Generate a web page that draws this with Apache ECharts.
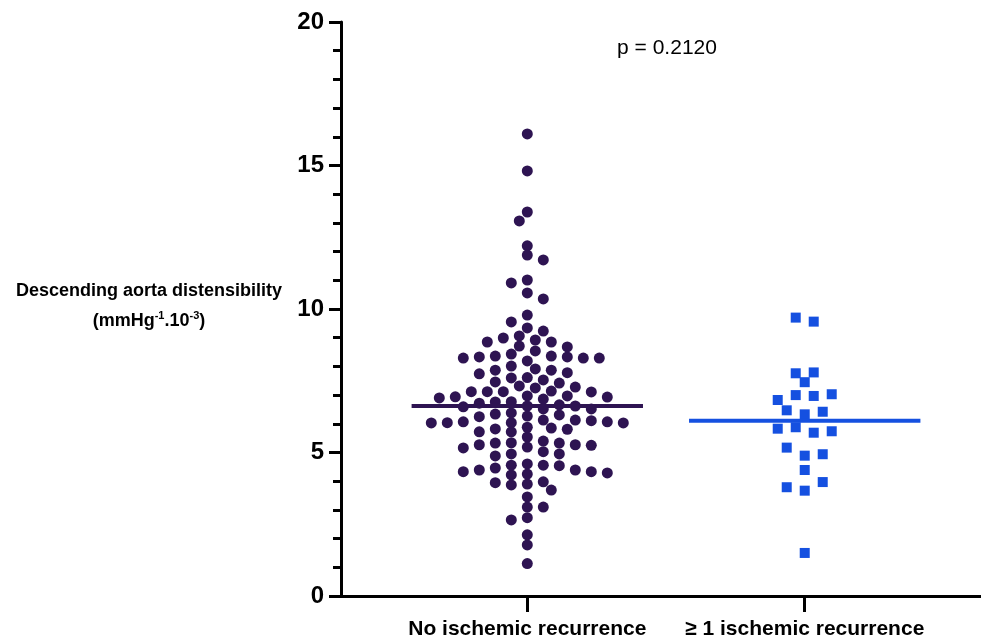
<!DOCTYPE html>
<html>
<head>
<meta charset="utf-8">
<script src="https://cdn.jsdelivr.net/npm/echarts@6/dist/echarts.min.js"></script>
<style>html,body{margin:0;padding:0;background:#fff}#c{width:981px;height:640px}</style>
</head>
<body>
<div id="c"></div>
<script>
const categories = ['No ischemic recurrence', '\u2265 1 ischemic recurrence'];
const noRecurrence = [
  16.10, 14.81, 12.20, 2.13, 1.78, 1.13,
  13.07, 11.88, 11.01, 10.56, 9.79, 9.06, 8.71, 8.33, 7.74, 7.14, 6.86, 6.52, 6.07, 5.72, 5.40, 5.03, 4.22, 3.87, 3.45, 3.10, 2.73,
  13.38, 11.71, 10.91, 10.35, 9.55, 8.85, 8.54, 8.19, 7.87, 7.42, 7.11, 6.76, 6.31, 5.54, 5.19, 4.60, 4.29, 3.90, 3.10, 2.65,
  9.34, 8.99, 8.43, 7.87, 7.28, 6.93, 6.59, 6.04, 5.72, 5.33, 4.56, 4.25, 3.69,
  9.23, 8.85, 8.36, 8.01, 7.60, 6.97, 6.66, 6.03, 5.34, 4.95, 4.33, 3.95,
  8.68, 8.33, 7.91, 7.53, 6.62, 6.13, 5.82, 5.33, 4.95, 4.46,
  8.92, 8.29, 7.78, 7.46, 6.72, 6.38, 6.04, 5.16, 4.56, 3.98,
  8.29, 7.61, 6.94, 6.62, 6.27, 5.85, 5.27, 4.54,
  8.29, 7.25, 6.90, 6.52, 6.11, 5.81, 5.25, 4.88, 4.39,
  8.36, 7.32, 6.97, 6.34, 6.03, 4.39,
  7.12, 6.77, 6.13, 5.27, 4.33,
  7.12, 6.07,
  7.12, 6.25, 5.88
];
const recurrence = [
  9.70, 9.56, 7.76, 7.79, 7.45, 6.83, 7.00, 6.97, 7.03, 6.47, 6.33, 6.42,
  5.83, 5.88, 5.69, 5.74, 5.17, 4.89, 4.94, 4.39, 3.79, 3.67, 3.97, 1.50
];
const yAxisTitle = 'Descending aorta distensibility';
const pValueLabel = 'p = 0.2120';

function median(a) {
  const s = a.slice().sort((x, y) => x - y);
  const n = s.length;
  return n % 2 ? s[(n - 1) / 2] : (s[n / 2 - 1] + s[n / 2]) / 2;
}

const FONT = 'Liberation Sans, Arial, sans-serif';
const X_MIN = 1 - 186 / 277;
const X_MAX = 2 + 176 / 277;
const LINE_HALF = 0.417;

const chart = echarts.init(document.getElementById('c'), null, { renderer: 'canvas' });

chart.setOption({
  animation: false,
  backgroundColor: '#fff',
  grid: { left: 341, right: 0, top: 22, bottom: 44, containLabel: false },
  xAxis: {
    type: 'value', min: X_MIN, max: X_MAX,
    axisLine: { show: true, onZero: false, lineStyle: { color: '#000', width: 3 } },
    axisTick: { show: true, customValues: [1, 2], length: 16, lineStyle: { color: '#000', width: 3 } },
    axisLabel: {
      customValues: [1, 2], margin: 23,
      formatter: v => categories[Math.round(v) - 1],
      fontSize: 21, fontWeight: 'bold', color: '#000', fontFamily: FONT
    },
    splitLine: { show: false }
  },
  yAxis: {
    type: 'value', min: 0, max: 20, interval: 5,
    axisLine: { show: true, lineStyle: { color: '#000', width: 3 } },
    axisTick: { show: true, length: 12, lineStyle: { color: '#000', width: 3 } },
    minorTick: { show: true, splitNumber: 5, length: 8, lineStyle: { color: '#000', width: 3 } },
    splitLine: { show: false }, minorSplitLine: { show: false },
    axisLabel: { fontSize: 24, fontWeight: 'bold', color: '#000', fontFamily: FONT, margin: 17 }
  },
  graphic: [
    { type: 'text', x: 149, y: 291, style: { text: yAxisTitle, align: 'center', verticalAlign: 'middle', font: 'bold 18px ' + FONT, fill: '#000' } },
    { type: 'text', x: 149, y: 321, style: {
        text: '{a|(mmHg}{s|-1}{a|.10}{s|-3}{a|)}', align: 'center', verticalAlign: 'middle',
        rich: {
          a: { fontSize: 18, fontWeight: 'bold', fontFamily: FONT, color: '#000', lineHeight: 22 },
          s: { fontSize: 11, fontWeight: 'bold', fontFamily: FONT, color: '#000', verticalAlign: 'top', lineHeight: 22 }
        }
      } },
    { type: 'text', x: 667, y: 48, style: { text: pValueLabel, align: 'center', verticalAlign: 'middle', font: '21px ' + FONT, fill: '#000' } }
  ],
  series: []
});

function toPx(cat, v) { return chart.convertToPixel({ gridIndex: 0 }, [cat, v]); }

// Greedy swarm on a half-step lattice with an elliptical exclusion zone
function swarm(values, cat, halfStep, rx, ry) {
  const pxPerUnit = toPx(cat + 1, 0)[0] - toPx(cat, 0)[0];
  const items = values.map(v => ({ v: v, y: toPx(cat, v)[1] }));
  const order = items.slice().sort((a, b) => a.y - b.y);
  const placed = [];
  let flip = false;
  order.forEach(it => {
    for (let k = 0; k < 80; k++) {
      const cands = k === 0 ? [0] : (flip ? [k, -k] : [-k, k]);
      let found = null;
      for (const c of cands) {
        const x = c * halfStep;
        const free = placed.every(p => {
          const dx = (p.x - x) / rx, dy = (p.y - it.y) / ry;
          return dx * dx + dy * dy >= 1;
        });
        if (free) { found = x; break; }
      }
      if (found !== null) { it.x = found; placed.push(it); if (k > 0) flip = !flip; break; }
    }
  });
  return items.map(it => [cat + it.x / pxPerUnit, it.v]);
}

// Row layout: close values share a row, centred on the category
function rows(values, cat, pitch, rowH) {
  const pxPerUnit = toPx(cat + 1, 0)[0] - toPx(cat, 0)[0];
  const items = values.map((v, i) => ({ v: v, i: i, y: toPx(cat, v)[1] }));
  const order = items.slice().sort((a, b) => a.y - b.y);
  let row = [];
  const flush = () => {
    row.sort((a, b) => a.i - b.i);
    row.forEach((it, j) => { it.x = (j - (row.length - 1) / 2) * pitch; });
    row = [];
  };
  order.forEach(it => {
    if (row.length && it.y - row[0].y >= rowH) flush();
    row.push(it);
  });
  flush();
  return items.map(it => [cat + it.x / pxPerUnit, it.v]);
}

const leftPts = swarm(noRecurrence, 1, 8, 16, 9);
const rightPts = rows(recurrence, 2, 18, 9.5);
const medL = median(noRecurrence);
const medR = median(recurrence);

chart.setOption({
  series: [
    { type: 'scatter', data: leftPts, symbol: 'circle', symbolSize: 11, itemStyle: { color: '#2E1452', opacity: 1 }, silent: true },
    { type: 'scatter', data: rightPts, symbol: 'rect', symbolSize: 10, itemStyle: { color: '#1550E0', opacity: 1 }, silent: true },
    { type: 'line', data: [[1 - LINE_HALF, medL], [1 + LINE_HALF, medL]], symbol: 'none', lineStyle: { color: '#2E1452', width: 4 }, silent: true },
    { type: 'line', data: [[2 - LINE_HALF, medR], [2 + LINE_HALF, medR]], symbol: 'none', lineStyle: { color: '#1550E0', width: 4 }, silent: true }
  ]
});
</script>
</body>
</html>
